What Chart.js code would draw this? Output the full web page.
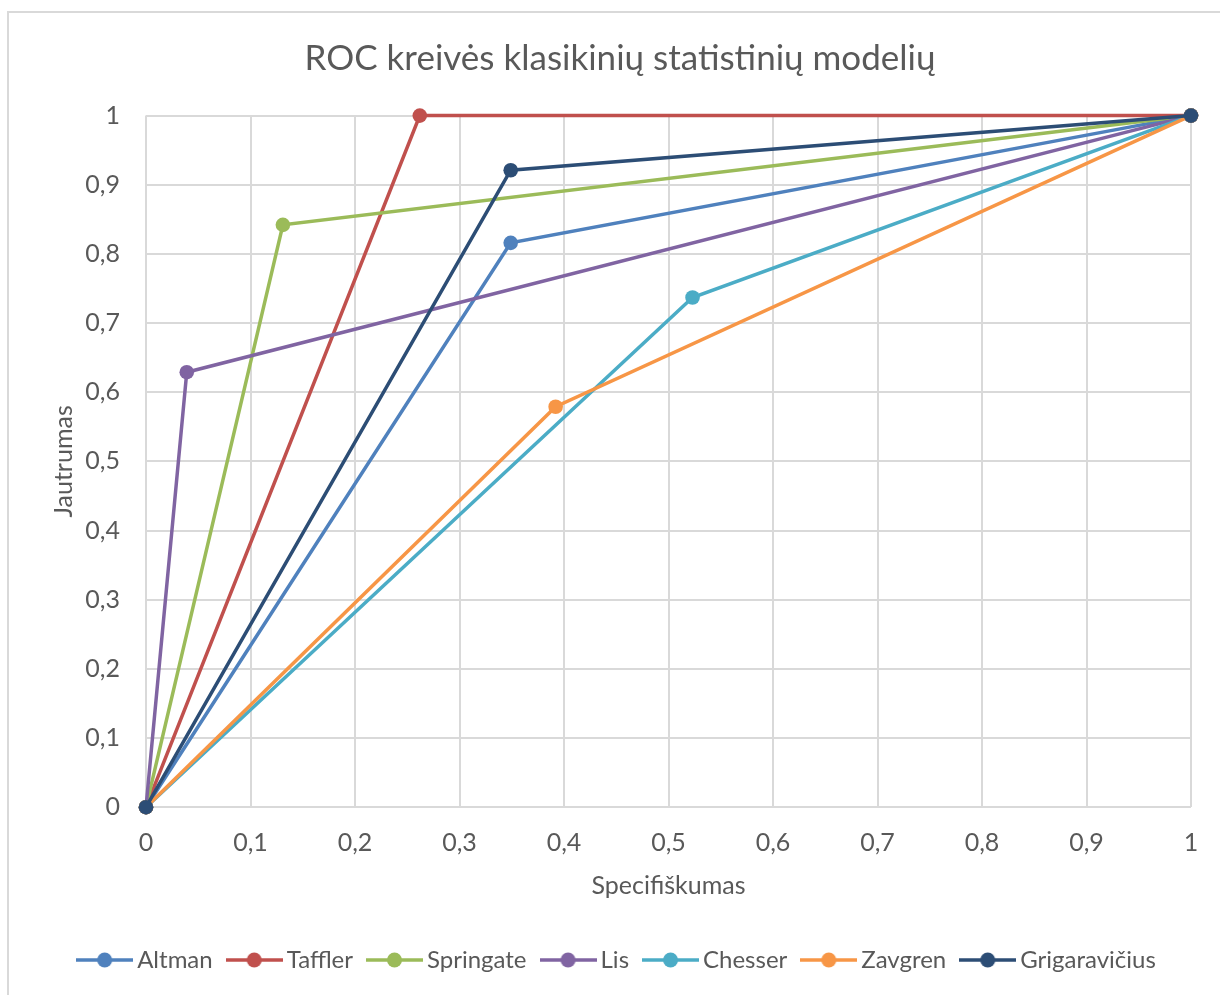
<!DOCTYPE html>
<html lang="lt">
<head>
<meta charset="utf-8">
<title>ROC kreivės klasikinių statistinių modelių</title>
<script src="https://cdn.jsdelivr.net/npm/chart.js@4.4.1/dist/chart.umd.min.js"></script>
<style>
  html, body { margin: 0; padding: 0; background: #ffffff; }
  canvas { display: block; }
</style>
</head>
<body>
<canvas id="roc" width="1220" height="995"></canvas>
<script>
// Texts
const chartTitle = 'ROC kreivės klasikinių statistinių modelių';
const xAxisTitle = 'Specifiškumas';
const yAxisTitle = 'Jautrumas';

// Models and their single operating point (x, y)
const modelNames = ['Altman', 'Taffler', 'Springate', 'Lis', 'Chesser', 'Zavgren', 'Grigaravičius'];
const cutX = [0.349, 0.262, 0.131, 0.039, 0.523, 0.392, 0.349];
const cutY = [0.816, 1.000, 0.842, 0.629, 0.737, 0.579, 0.921];

// Every curve starts at (0,0) and ends at (1,1)
const startX = 0, startY = 0;
const endX = 1, endY = 1;

// Tick labels (decimal comma)
const xTickLabels = ['0', '0,1', '0,2', '0,3', '0,4', '0,5', '0,6', '0,7', '0,8', '0,9', '1'];
const yTickLabels = ['0', '0,1', '0,2', '0,3', '0,4', '0,5', '0,6', '0,7', '0,8', '0,9', '1'];

const modelColors = ['#4F81BD', '#C0504D', '#9BBB59', '#8064A2', '#4BACC6', '#F79646', '#2C4D75'];

const FONT = 'Lato, "Open Sans", "DejaVu Sans", sans-serif';
const TEXT = '#595959';
const GRID = '#D9D9D9';

// Small line-with-marker icon for the legend
function legendIcon(color) {
  const c = document.createElement('canvas');
  c.width = 57; c.height = 16;
  const g = c.getContext('2d');
  g.strokeStyle = color;
  g.lineWidth = 3.5;
  g.beginPath(); g.moveTo(0, 8); g.lineTo(57, 8); g.stroke();
  g.fillStyle = color;
  g.beginPath(); g.arc(28.5, 8, 7.5, 0, Math.PI * 2); g.fill();
  return c;
}

const datasets = modelNames.map((name, i) => ({
  label: name,
  data: [
    { x: startX, y: startY },
    { x: cutX[i], y: cutY[i] },
    { x: endX, y: endY }
  ],
  borderColor: modelColors[i],
  backgroundColor: modelColors[i],
  borderWidth: 3.5,
  pointRadius: 7.3,
  pointBorderWidth: 0,
  pointBackgroundColor: modelColors[i],
  tension: 0,
  fill: false,
  clip: false,
  order: modelNames.length - i
}));

// White page with a light frame around the chart
const framePlugin = {
  id: 'frame',
  beforeDraw(chart) {
    const ctx = chart.ctx;
    ctx.save();
    ctx.fillStyle = '#ffffff';
    ctx.fillRect(0, 0, chart.width, chart.height);
    ctx.strokeStyle = GRID;
    ctx.lineWidth = 2;
    ctx.strokeRect(8, 12, chart.width + 20, chart.height + 20);
    ctx.restore();
  }
};

new Chart(document.getElementById('roc'), {
  type: 'line',
  data: { datasets },
  plugins: [framePlugin],
  options: {
    responsive: false,
    animation: false,
    events: [],
    layout: {
      autoPadding: false,
      padding: { left: 49, right: 29, top: 0, bottom: 13 }
    },
    plugins: {
      tooltip: { enabled: false },
      title: {
        display: true,
        text: chartTitle,
        color: TEXT,
        font: { family: FONT, size: 35, weight: 'normal' },
        padding: { top: 38, bottom: 35.6 }
      },
      legend: {
        position: 'bottom',
        labels: {
          usePointStyle: true,
          pointStyleWidth: 41,
          padding: 21,
          color: TEXT,
          font: { family: FONT, size: 24 },
          generateLabels(chart) {
            return chart.data.datasets.map((ds, i) => ({
              text: ds.label,
              pointStyle: legendIcon(modelColors[i]),
              fillStyle: modelColors[i],
              strokeStyle: modelColors[i],
              lineWidth: 0,
              fontColor: TEXT,
              hidden: false,
              datasetIndex: i
            }));
          }
        }
      }
    },
    scales: {
      x: {
        type: 'linear',
        min: 0,
        max: 1,
        afterFit(scale) { scale.height = 119.8; },
        ticks: {
          stepSize: 0.1,
          padding: 21,
          color: TEXT,
          font: { family: FONT, size: 25 },
          maxRotation: 0,
          autoSkip: false,
          callback: (v, i) => xTickLabels[i]
        },
        grid: { color: GRID, lineWidth: 2, drawTicks: false },
        border: { display: false },
        title: {
          display: true,
          text: xAxisTitle,
          color: TEXT,
          font: { family: FONT, size: 25 },
          padding: { top: 0, bottom: 26 }
        }
      },
      y: {
        type: 'linear',
        min: 0,
        max: 1,
        afterFit(scale) { scale.width = 97; },
        ticks: {
          stepSize: 0.1,
          padding: 26,
          color: TEXT,
          font: { family: FONT, size: 25 },
          autoSkip: false,
          callback: (v, i) => yTickLabels[i]
        },
        grid: { color: GRID, lineWidth: 2, drawTicks: false },
        border: { display: false },
        title: {
          display: true,
          text: yAxisTitle,
          color: TEXT,
          font: { family: FONT, size: 25 },
          padding: { top: 0, bottom: 0 }
        }
      }
    }
  }
});
</script>
</body>
</html>
